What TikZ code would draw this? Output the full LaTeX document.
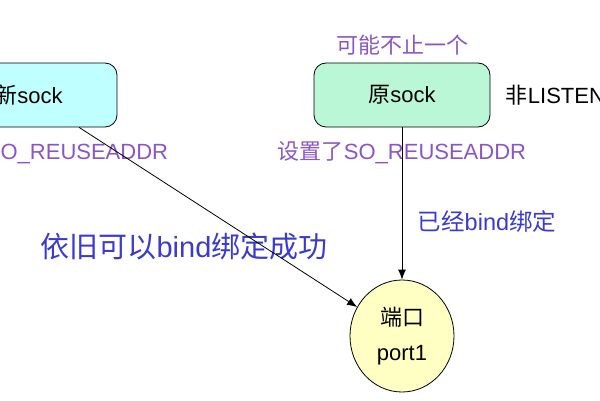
\documentclass[tikz,border=0pt]{standalone}
\usepackage{fontspec}
\setmainfont{Liberation Sans}
\newfontfamily\zhfont{Noto Sans CJK SC}
\newcommand{\zh}[1]{{\zhfont #1}}
\usetikzlibrary{arrows.meta,positioning,shapes.geometric}

\definecolor{sockcyan}{HTML}{C0FFFF}
\definecolor{sockgreen}{HTML}{B9F7D6}
\definecolor{portyellow}{HTML}{FFFFC4}
\definecolor{notepurple}{HTML}{8B55C8}
\definecolor{noteblue}{HTML}{3A3AD2}

\begin{document}
\begin{tikzpicture}[x=1pt, y=1pt, auto,
    >={Latex[length=10pt,width=8pt]},
    every node/.append style={align=center, font=\fontsize{22}{35}\selectfont},
    sock/.style={draw, line width=0.8pt, rounded corners=12pt,
      minimum width=176pt, minimum height=64pt},
    port/.style={draw, line width=0.8pt, ellipse, fill=portyellow,
      minimum width=104pt, minimum height=112pt},
    note/.style={text=notepurple},
    bindnote/.style={text=noteblue}]
   \useasboundingbox (0,0) rectangle (600,400);
   \clip (0,0) rectangle (600,400);

   \node [sock, fill=sockgreen] (orig) at (402,305) {\zh{原}sock};
   \node [sock, fill=sockcyan]  (new)  at (29,305)  {\zh{新}sock};
   \node [port] (port) at (402,64) {\zh{端口}\\port1};

   \node [note, above=4pt of orig] (many) {\zh{可能不止一个}};
   \node [right=12pt of orig] (state) {\zh{非}LISTEN};
   \node [note, below=10pt of orig] (origopt) {\zh{设置了}SO\_REUSEADDR};
   \node [note, below=10pt of new, xshift=15pt] (newopt) {\zh{设置了}SO\_REUSEADDR};
   \node [bindnote, font=\fontsize{29}{34}\selectfont] (ok) at (184,154)
     {\zh{依旧可以}bind\zh{绑定成功}};

   \path[->, line width=0.8pt]
   (orig) edge node [bindnote, pos=0.62, right=12pt,
     font=\fontsize{23.5}{34}\selectfont] {\zh{已经}bind\zh{绑定}} (port)
   (new) edge node {} (port);
\end{tikzpicture}
\end{document}
